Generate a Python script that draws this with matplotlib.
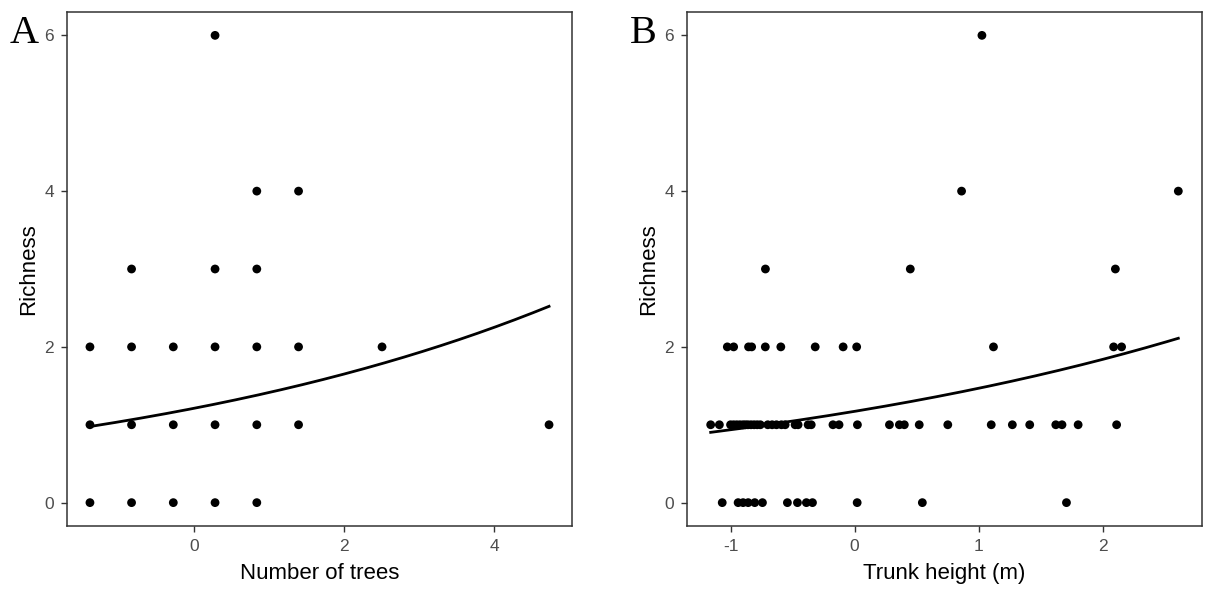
import numpy as np
import matplotlib
matplotlib.use("Agg")
import matplotlib.pyplot as plt

plt.rcParams["font.family"] = ["Liberation Sans", "DejaVu Sans"]

# Panel A: richness against (scaled) number of trees
trees_x = [-1.39, -1.39, -1.39,
           -0.835, -0.835, -0.835, -0.835,
           -0.278, -0.278, -0.278,
           0.279, 0.279, 0.279, 0.279, 0.279,
           0.836, 0.836, 0.836, 0.836, 0.836,
           1.393, 1.393, 1.393,
           2.507,
           4.735]
trees_y = [0, 1, 2,
           0, 1, 2, 3,
           0, 1, 2,
           0, 1, 2, 3, 6,
           0, 1, 2, 3, 4,
           1, 2, 4,
           2,
           1]
# Poisson GLM fit (log link): intercept, slope
trees_fit = (0.192, 0.1547)

# Panel B: richness against (scaled) trunk height
trunk_x = [
    # richness 0
    -1.067, -0.939, -0.899, -0.858, -0.805, -0.743, -0.542, -0.461, -0.389,
    -0.340, 0.020, 0.545, 1.706,
    # richness 1
    -1.160, -1.090, -1.000, -0.975, -0.950, -0.925, -0.900, -0.880, -0.860,
    -0.835, -0.810, -0.785, -0.760, -0.700, -0.665, -0.630, -0.590, -0.560,
    -0.480, -0.456, -0.375, -0.350, -0.175, -0.126, 0.022, 0.280, 0.360,
    0.400, 0.520, 0.750, 1.100, 1.270, 1.410, 1.620, 1.670, 1.800, 2.110,
    # richness 2
    -1.026, -0.975, -0.855, -0.830, -0.720, -0.595, -0.318, -0.093, 0.016,
    1.118, 2.086, 2.150,
    # richness 3
    -0.719, 0.448, 2.100,
    # richness 4
    0.861, 2.607,
    # richness 6
    1.025,
]
trunk_y = ([0] * 13 + [1] * 37 + [2] * 12 + [3] * 3 + [4] * 2 + [6])
# Poisson GLM fit (log link): intercept, slope
trunk_fit = (0.159, 0.2255)

panels = [
    ("A", trees_x, trees_y, trees_fit, "Number of trees", [0, 2, 4], ["0", "2", "4"]),
    ("B", trunk_x, trunk_y, trunk_fit, "Trunk height (m)", [-1, 0, 1, 2], ["-1", "0", "1", "2"]),
]

fig = plt.figure(figsize=(12.10, 5.89), dpi=100)
rects = [(67 / 1210, 63 / 589, 505 / 1210, 514 / 589),
         (687.3 / 1210, 63 / 589, 514.4 / 1210, 514 / 589)]

yticks = [0, 2, 4, 6]
frame_col = "#333333"
tick_lab_col = "#4D4D4D"

for rect, (tag, xs, ys, fit, xlabel, xt, xtl) in zip(rects, panels):
    ax = fig.add_axes(rect)
    xs = np.asarray(xs, float)
    ys = np.asarray(ys, float)
    ax.scatter(xs, ys, s=40, color="black", edgecolors="none", zorder=3)

    xx = np.linspace(xs.min(), xs.max(), 200)
    ax.plot(xx, np.exp(fit[0] + fit[1] * xx), color="black", lw=2.0, zorder=4)

    span = xs.max() - xs.min()
    ax.set_xlim(xs.min() - 0.05 * span, xs.max() + 0.05 * span)
    ax.set_ylim(-0.3, 6.3)
    ax.set_xticks(xt)
    ax.set_xticklabels(xtl)
    ax.set_yticks(yticks)
    ax.set_yticklabels([str(v) for v in yticks])

    for sp in ax.spines.values():
        sp.set_color(frame_col)
        sp.set_linewidth(1.1)
    ax.tick_params(axis="both", direction="out", length=4.5, width=1.0,
                   color=frame_col, labelcolor=tick_lab_col, labelsize=12.5, pad=5)
    ax.set_xlabel(xlabel, fontsize=16, color="black", labelpad=6)
    ax.set_ylabel("Richness", fontsize=16, color="black", labelpad=4)

    fig.text(rect[0] - 57 / 1210, 1 - 43 / 589, tag, fontsize=29,
             family=["Liberation Serif", "DejaVu Serif"], color="black",
             ha="left", va="baseline")

fig.savefig("out.png", dpi=100, facecolor="white")
